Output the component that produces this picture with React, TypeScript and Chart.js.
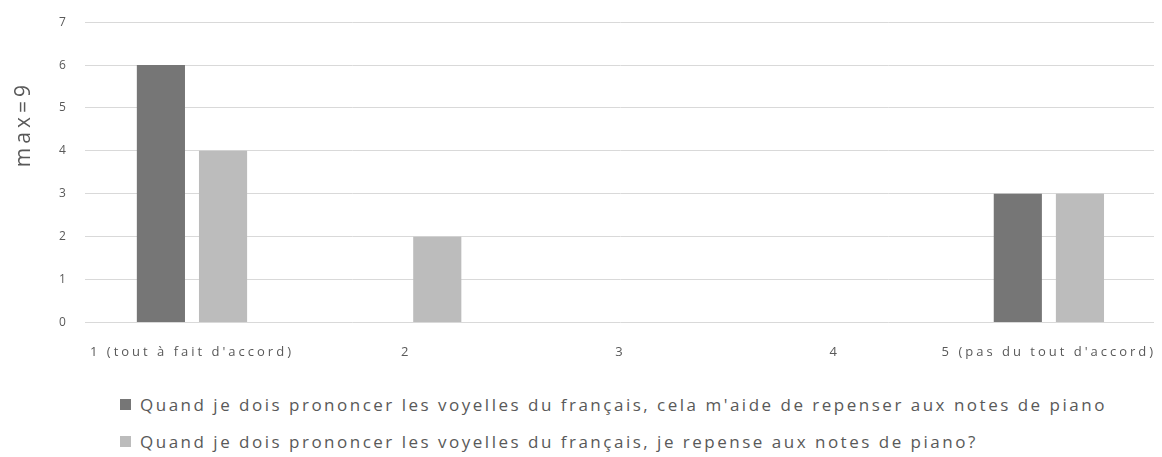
import React, { useEffect, useRef } from "react";
import { Chart, registerables } from "chart.js";

Chart.register(...registerables);

const categories = ["1 (tout à fait d'accord)", "2", "3", "4", "5 (pas du tout d'accord)"];
const series1Label = "Quand je dois prononcer les voyelles du français, cela m'aide de repenser aux notes de piano";
const series2Label = "Quand je dois prononcer les voyelles du français, je repense aux notes de piano?";
const series1 = [6, 0, 0, 0, 3];
const series2 = [4, 2, 0, 0, 3];
const yTitle = "max=9";

const color1 = "#767676";
const color2 = "#bcbcbc";
const textColor = "#595959";
const fontFamily = "'Open Sans', 'Liberation Sans', sans-serif";

const spacingPlugin = {
  id: "spacing",
  beforeUpdate(chart: any) { chart.ctx.letterSpacing = "3px"; },
  beforeDraw(chart: any) { chart.ctx.letterSpacing = "3px"; },
  afterDraw(chart: any) {
    const { ctx, chartArea } = chart;
    ctx.save();
    ctx.letterSpacing = "4px";
    ctx.font = `21px ${fontFamily}`;
    ctx.fillStyle = textColor;
    ctx.textAlign = "center";
    ctx.textBaseline = "middle";
    ctx.translate(16, chartArea.top + (chartArea.bottom - chartArea.top) * 0.346);
    ctx.rotate(-Math.PI / 2);
    ctx.fillText(yTitle, 2, 0);
    ctx.restore();
  },
};

export default function App() {
  const ref = useRef<HTMLCanvasElement | null>(null);
  useEffect(() => {
    if (!ref.current) return;
    const chart = new Chart(ref.current, {
      type: "bar",
      data: {
        labels: categories,
        datasets: [
          { label: series1Label, data: series1, backgroundColor: color1, categoryPercentage: 0.58, barPercentage: 0.775 },
          { label: series2Label, data: series2, backgroundColor: color2, categoryPercentage: 0.58, barPercentage: 0.775 },
        ],
      },
      plugins: [spacingPlugin],
      options: {
        animation: false,
        responsive: false,
        maintainAspectRatio: false,
        layout: { padding: { top: 5, right: 0, left: 35, bottom: 0 } },
        plugins: { legend: { display: false }, tooltip: { enabled: false } },
        scales: {
          x: {
            grid: { display: false },
            border: { display: false },
            ticks: { color: textColor, font: { family: fontFamily, size: 13 }, maxRotation: 0, autoSkip: false, padding: 14 },
            afterFit: (scale: any) => { scale.paddingLeft = 0; scale.paddingRight = 0; },
          },
          y: {
            min: 0,
            max: 7,
            grid: { color: "#d9d9d9", lineWidth: 1, drawTicks: false },
            border: { display: false },
            ticks: { stepSize: 1, color: textColor, font: { family: fontFamily, size: 12 }, padding: 16 },
          },
        },
      },
    });
    return () => chart.destroy();
  }, []);

  const legendItem = (c: string, t: string) => (
    <div style={{ display: "flex", alignItems: "center", height: 37 }}>
      <span style={{ display: "inline-block", width: 11, height: 11, background: c, marginRight: 9 }} />
      <span style={{ fontFamily, fontSize: 17, color: textColor, letterSpacing: 2.5, whiteSpace: "nowrap" }}>{t}</span>
    </div>
  );

  return (
    <div style={{ width: 1148, marginTop: -9 }}>
      <canvas ref={ref} width={1148} height={375} style={{ display: "block" }} />
      <div style={{ paddingLeft: 112, marginTop: 12 }}>
        {legendItem(color1, series1Label)}
        {legendItem(color2, series2Label)}
      </div>
    </div>
  );
}
